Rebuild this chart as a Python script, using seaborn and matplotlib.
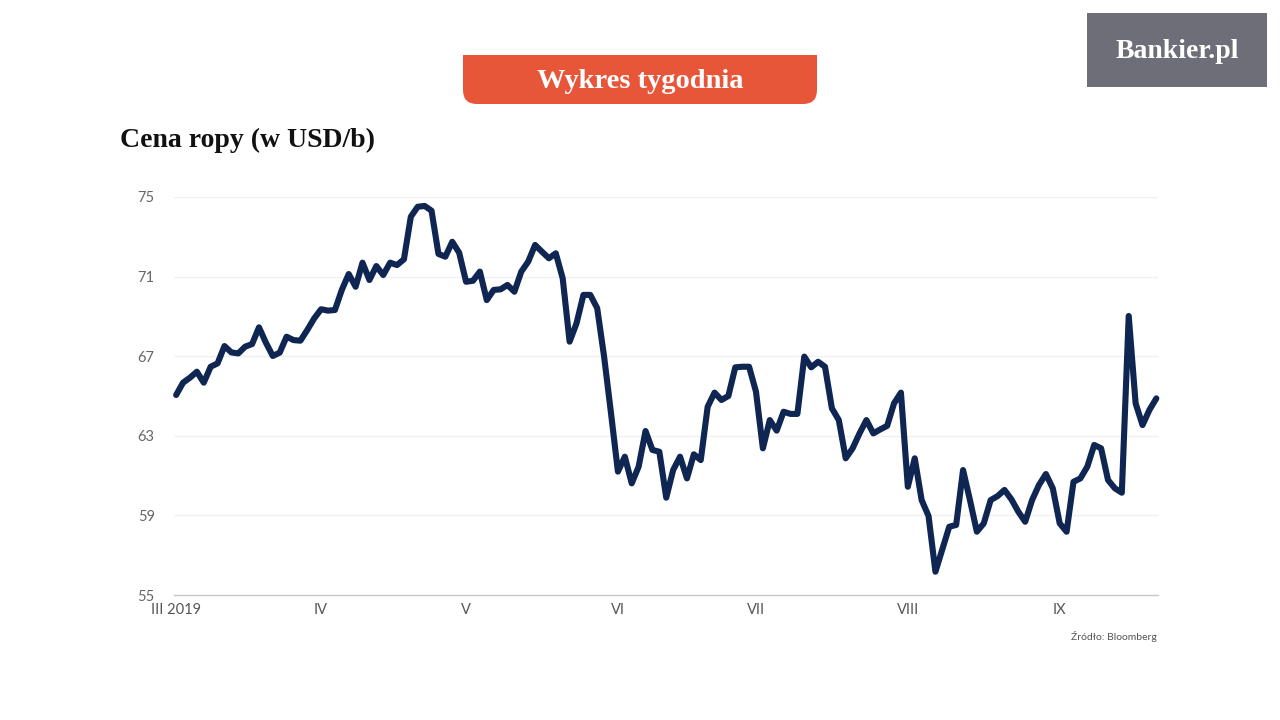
import numpy as np
import pandas as pd
import matplotlib
matplotlib.use("Agg")
import matplotlib.pyplot as plt
from matplotlib.patches import FancyBboxPatch, Rectangle
import seaborn as sns

sns.set_theme(style="white")
plt.rcParams['font.family'] = ['Lato', 'DejaVu Sans']

# Brent oil price, daily closes (USD/b), Mar 1 - Sep 23 2019
price = [
    65.05, 65.67, 65.92, 66.22, 65.67, 66.47, 66.64, 67.51, 67.19, 67.14,
    67.48, 67.61, 68.45, 67.68, 67.01, 67.18, 67.98, 67.81, 67.78, 68.32,
    68.90, 69.36, 69.29, 69.32, 70.33, 71.13, 70.49, 71.70,
    70.83, 71.53, 71.08, 71.70, 71.58, 71.87, 74.01, 74.51, 74.55, 74.31,
    72.14, 72.00, 72.75, 72.20, 70.74, 70.79, 71.25, 69.82, 70.33, 70.36,
    70.58, 70.24, 71.25, 71.75, 72.59, 72.25, 71.92, 72.17, 70.91,
    67.73, 68.65, 70.08, 70.08, 69.41, 66.97, 64.13, 61.20, 61.95, 60.61,
    61.45, 63.24, 62.29, 62.20, 59.89, 61.28, 61.95, 60.86, 62.07, 61.78,
    64.46, 65.17, 64.80, 65.00, 66.44, 66.47, 66.47, 65.22, 62.37,
    63.79, 63.26, 64.21, 64.10, 64.10, 66.98, 66.44, 66.72, 66.47, 64.38,
    63.79, 61.87, 62.37, 63.12, 63.79, 63.12, 63.32, 63.50, 64.63, 65.17,
    60.44, 61.87, 59.77, 58.97, 56.17, 57.30, 58.43, 58.52, 61.28,
    59.77, 58.18, 58.60, 59.77, 59.97, 60.28, 59.81, 59.19, 58.68, 59.77,
    60.53, 61.08, 60.36, 58.60, 58.18, 60.69, 60.86, 61.45, 62.54, 62.37,
    60.78, 60.36, 60.14, 69.02, 64.63, 63.54, 64.30, 64.88,
]
holidays = ["2019-04-19", "2019-05-27", "2019-07-04", "2019-09-02"]
month_labels = ["III 2019", "IV", "V", "VI", "VII", "VIII", "IX"]
y_ticks = [55, 59, 63, 67, 71, 75]

dates = pd.bdate_range("2019-03-01", periods=len(price), freq="C", holidays=holidays)
df = pd.DataFrame({"idx": np.arange(len(price)), "price": price, "date": dates})
month_pos = df.groupby(df["date"].dt.month)["idx"].min().tolist()

fig = plt.figure(figsize=(12.8, 7.2), dpi=100)
ax = fig.add_axes([0.136, 0.1736, 0.769, 0.5528])

sns.lineplot(data=df, x="idx", y="price", ax=ax, color="#0f2552",
             linewidth=4.4, solid_joinstyle="round", solid_capstyle="round")
ax.lines[0].set_clip_on(False)

ax.set_xlim(-0.3, len(price) - 0.7)
ax.set_ylim(55, 75)
ax.set_yticks(y_ticks)
ax.set_yticklabels([str(v) for v in y_ticks], color="#666666", fontsize=10.5)
ax.set_xticks(month_pos)
ax.set_xticklabels(month_labels, color="#555555", fontsize=10.5)
ax.tick_params(axis="both", length=0)
ax.tick_params(axis="y", pad=14)
ax.tick_params(axis="x", pad=6)
ax.set_xlabel("")
ax.set_ylabel("")
for s in ["top", "right", "left"]:
    ax.spines[s].set_visible(False)
ax.spines["bottom"].set_color("#c8c8c8")
ax.spines["bottom"].set_linewidth(1.0)
ax.grid(axis="y", color="#f0f0f0", linewidth=1.0)
ax.set_axisbelow(True)

# decoration layer in pixel units
deco = fig.add_axes([0, 0, 1, 1], zorder=-1)
deco.set_xlim(0, 1280)
deco.set_ylim(720, 0)
deco.axis("off")

serif = ["Liberation Serif", "DejaVu Serif"]
banner_col = "#e8563a"
deco.add_patch(FancyBboxPatch((463, 55), 354, 49, boxstyle="round,pad=0,rounding_size=14",
                              fc=banner_col, ec="none"))
deco.add_patch(Rectangle((463, 55), 354, 20, fc=banner_col, ec="none"))
deco.text(640, 81, "Wykres tygodnia", ha="center", va="center", color="white",
          fontsize=20.5, fontweight="bold", family=serif)

deco.add_patch(Rectangle((1087, 13), 180, 74, fc="#6e6e78", ec="none"))
deco.text(1177, 52, "Bankier.pl", ha="center", va="center", color="white",
          fontsize=20, fontweight="bold", family=serif)

fig.text(120 / 1280, 1 - 140 / 720, "Cena ropy (w USD/b)", ha="left", va="center",
         color="#111111", fontsize=20, fontweight="bold", family=serif)
fig.text(1157 / 1280, 1 - 637 / 720, "Źródło: Bloomberg", ha="right", va="center",
         color="#555555", fontsize=7.5)

fig.savefig("out.png", dpi=100, facecolor="white")
